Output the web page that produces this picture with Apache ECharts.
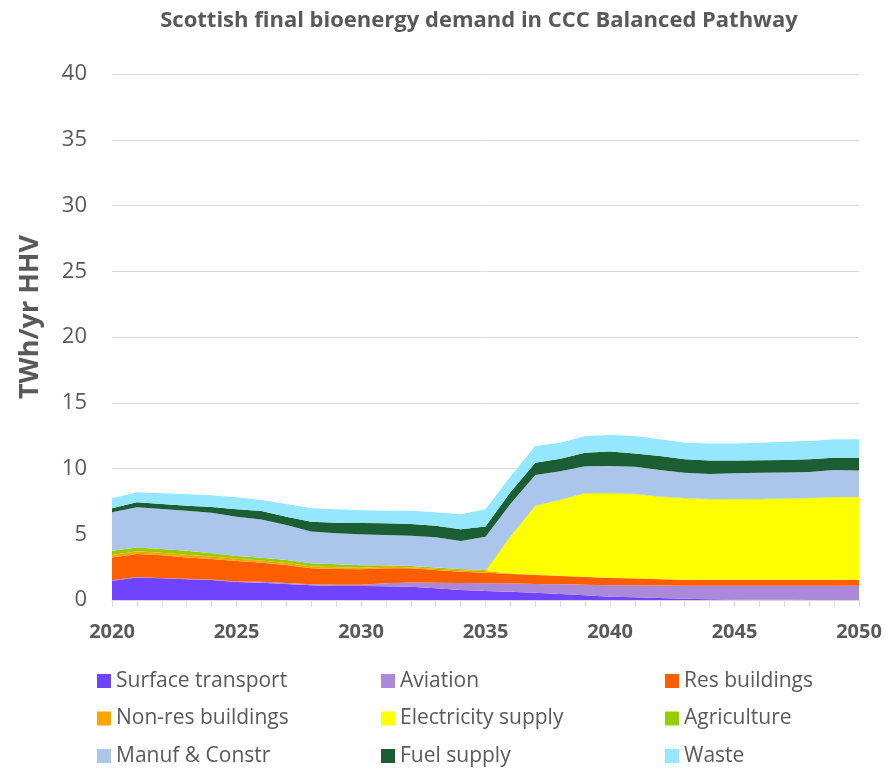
<!DOCTYPE html>
<html>
<head>
<meta charset="utf-8">
<script src="https://cdn.jsdelivr.net/npm/echarts@6/dist/echarts.min.js"></script>
<style>
  html, body { margin: 0; padding: 0; background: #fff; }
  #chart { width: 890px; height: 773px; }
</style>
</head>
<body>
<div id="chart"></div>
<script>
// Years on the horizontal axis
const years = [];
for (let y = 2020; y <= 2050; y++) years.push(String(y));

// Final bioenergy demand by sector, TWh/yr HHV (2020 .. 2050)
const surfaceTransport = [1.47,1.72,1.65,1.57,1.52,1.36,1.32,1.22,1.12,1.06,1.06,1.05,1.01,0.89,0.76,0.68,0.62,0.56,0.46,0.36,0.25,0.20,0.15,0.10,0.06,0.04,0.02,0.01,0,0,0];
const aviation         = [0.03,0.03,0.03,0.04,0.04,0.05,0.06,0.08,0.07,0.10,0.10,0.22,0.33,0.43,0.54,0.59,0.65,0.66,0.73,0.80,0.87,0.92,0.95,0.99,1.03,1.05,1.07,1.08,1.09,1.09,1.09];
const resBuildings     = [1.74,1.75,1.72,1.63,1.56,1.56,1.46,1.36,1.22,1.20,1.17,1.14,1.07,0.96,0.85,0.81,0.71,0.68,0.63,0.59,0.56,0.51,0.47,0.43,0.43,0.43,0.43,0.43,0.43,0.43,0.43];
const nonResBuildings  = [0.18,0.20,0.20,0.21,0.18,0.17,0.16,0.16,0.16,0.14,0.13,0.11,0.09,0.10,0.11,0.12,0.04,0.03,0.02,0.02,0.02,0.02,0.02,0.02,0.02,0.02,0.02,0.02,0.02,0.02,0.02];
const electricity      = [0,0,0,0,0,0,0,0,0,0,0,0,0,0,0,0,2.79,5.22,5.76,6.34,6.41,6.41,6.27,6.19,6.12,6.12,6.12,6.16,6.19,6.27,6.27];
const agriculture      = [0.33,0.30,0.28,0.30,0.25,0.21,0.22,0.22,0.22,0.21,0.18,0.12,0.08,0.10,0.10,0.08,0.02,0.02,0.02,0.02,0.02,0.02,0.02,0.02,0.02,0.02,0.02,0.02,0.02,0.03,0.03];
const manufConstr      = [2.92,3.05,3.04,3.04,3.09,2.99,2.91,2.66,2.41,2.36,2.36,2.30,2.31,2.29,2.13,2.53,2.47,2.34,2.18,2.04,2.06,2.06,2.01,1.93,1.90,1.95,2.00,1.98,1.98,2.05,2.00];
const fuelSupply       = [0.30,0.38,0.38,0.38,0.43,0.56,0.64,0.64,0.75,0.81,0.85,0.89,0.89,0.88,0.89,0.77,0.90,0.92,0.94,1.03,1.11,1.01,1.06,1.02,1.02,0.97,0.94,0.94,0.97,0.93,0.95];
const waste            = [0.76,0.76,0.81,0.87,0.89,0.91,0.83,0.96,1.02,1.02,0.97,0.96,1.01,1.02,1.14,1.32,1.20,1.28,1.22,1.27,1.25,1.32,1.27,1.26,1.31,1.31,1.34,1.40,1.39,1.40,1.43];

const seriesDefs = [
  { name: 'Surface transport',  data: surfaceTransport, color: '#7044FF' },
  { name: 'Aviation',           data: aviation,         color: '#AC88DA' },
  { name: 'Res buildings',      data: resBuildings,     color: '#FF5E00' },
  { name: 'Non-res buildings',  data: nonResBuildings,  color: '#FFA500' },
  { name: 'Electricity supply', data: electricity,      color: '#FFFF00' },
  { name: 'Agriculture',        data: agriculture,      color: '#99CC00' },
  { name: 'Manuf & Constr',     data: manufConstr,      color: '#ACC5EA' },
  { name: 'Fuel supply',        data: fuelSupply,       color: '#1C5E33' },
  { name: 'Waste',              data: waste,            color: '#95E7FF' }
];

const FONT = '"Open Sans", Lato, sans-serif';
const GREY = '#595959';

// Legend laid out as three columns of three entries
const legendColumns = [
  { left: 97,  names: ['Surface transport', 'Non-res buildings', 'Manuf & Constr'] },
  { left: 381, names: ['Aviation', 'Electricity supply', 'Fuel supply'] },
  { left: 665, names: ['Res buildings', 'Agriculture', 'Waste'] }
];

const chart = echarts.init(document.getElementById('chart'), null, { renderer: 'canvas' });

chart.setOption({
  animation: false,
  backgroundColor: '#fff',
  title: {
    text: 'Scottish final bioenergy demand in CCC Balanced Pathway',
    left: 474,
    textAlign: 'center',
    top: 5,
    textStyle: { fontFamily: FONT, fontSize: 22, fontWeight: 'bold', color: GREY }
  },
  legend: legendColumns.map(c => ({
    orient: 'vertical',
    left: c.left,
    top: 670,
    padding: 0,
    itemWidth: 14,
    itemHeight: 14,
    itemGap: 15.5,
    icon: 'rect',
    data: c.names,
    textStyle: { fontFamily: FONT, fontSize: 21, lineHeight: 22, color: GREY }
  })),
  grid: { left: 112, right: 31, top: 74, bottom: 173 },
  xAxis: {
    type: 'category',
    data: years,
    boundaryGap: false,
    axisLine: { lineStyle: { color: '#d9d9d9', width: 1 } },
    axisTick: { show: true, interval: 0, length: 7, lineStyle: { color: '#d9d9d9' } },
    axisLabel: {
      interval: 4,
      margin: 22,
      fontFamily: FONT, fontSize: 20, fontWeight: 'bold', color: GREY
    },
    splitLine: { show: false }
  },
  yAxis: {
    type: 'value',
    min: 0, max: 40, interval: 5,
    name: 'TWh/yr HHV',
    nameLocation: 'middle',
    nameGap: 68,
    nameTextStyle: {
      fontFamily: FONT, fontSize: 27, fontWeight: 'bold', color: GREY,
      padding: [0, 0, 0, 40]
    },
    axisLine: { show: false },
    axisTick: { show: false },
    axisLabel: { margin: 25, fontFamily: FONT, fontSize: 22, color: GREY },
    splitLine: { lineStyle: { color: '#d9d9d9', width: 1 } }
  },
  series: seriesDefs.map(s => ({
    name: s.name,
    type: 'line',
    stack: 'total',
    data: s.data,
    symbol: 'none',
    lineStyle: { width: 0 },
    itemStyle: { color: s.color },
    areaStyle: { color: s.color, opacity: 1 },
    emphasis: { disabled: true }
  }))
});
</script>
</body>
</html>
